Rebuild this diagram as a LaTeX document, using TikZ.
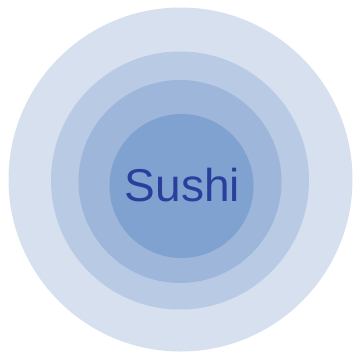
\documentclass[tikz,border=0pt]{standalone}
\usepackage{fontspec}
\setmainfont{Liberation Sans}
\usepackage{xcolor}
\usetikzlibrary{positioning}
\definecolor{ringouter}{HTML}{D6E0EE}
\definecolor{ringsecond}{HTML}{B9CBE4}
\definecolor{ringthird}{HTML}{9DB6DA}
\definecolor{ringinner}{HTML}{80A2D1}
\definecolor{sushitext}{HTML}{2A3F9C}

\begin{document}
\begin{tikzpicture}[x=1pt, y=-1pt, every node/.style={circle, inner sep=0pt, outer sep=0pt}]
    \useasboundingbox (0,0) rectangle (361,354);
    \node[fill=ringouter, minimum size=344pt] (outer) at (180.5,179.5) {};
    \node[fill=ringsecond, minimum size=258pt] (second) at (180,180.5) {};
    \node[fill=ringthird, minimum size=203pt] (third) at (180,181.5) {};
    \node[fill=ringinner, minimum size=144pt] (inner) at (181.5,186) {};
    \node[text=sushitext, font=\fontsize{46}{50}\selectfont] (label) at (182.5,185.5) {Sushi};
\end{tikzpicture}
\end{document}
